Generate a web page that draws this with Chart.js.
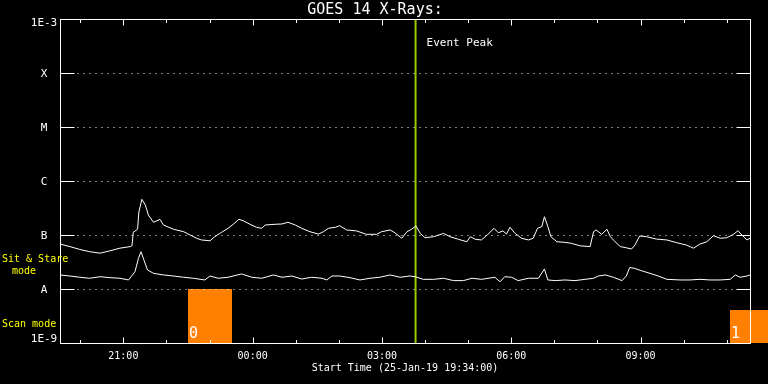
<!DOCTYPE html>
<html>
<head>
<meta charset="utf-8">
<title>GOES 14 X-Rays</title>
<script src="https://cdn.jsdelivr.net/npm/chart.js@4"></script>
<style>
  html, body { margin: 0; padding: 0; background: #000; }
  #wrap { width: 768px; height: 384px; }
</style>
</head>
<body>
<div id="wrap"><canvas id="xrayChart" width="768" height="384"></canvas></div>
<script>
// Time axis is in hours since 00:00 of 25-Jan-19 (values > 24 are the next day)
const startLabel = 'Start Time (25-Jan-19 19:34:00)';
const xMin = 19.53, xMax = 35.54;
const hourTicks = [20,21,22,23,24,25,26,27,28,29,30,31,32,33,34,35];

// Flux classes on the log axis
const classValues = [1e-9, 1e-8, 1e-7, 1e-6, 1e-5, 1e-4, 1e-3];
const classLabels = ['1E-9', 'A', 'B', 'C', 'M', 'X', '1E-3'];

// Long channel (upper trace)
const longTimes = [19.53,19.76,19.99,20.22,20.46,20.69,20.92,21.16,21.20,21.23,21.33,21.36,21.43,21.51,21.58,21.70,21.85,21.93,22.16,22.40,22.55,22.70,22.81,23.01,23.12,23.28,23.43,23.55,23.68,23.78,23.94,24.09,24.21,24.29,24.52,24.68,24.82,24.99,25.14,25.33,25.53,25.64,25.76,25.92,26.02,26.18,26.41,26.64,26.88,26.99,27.19,27.30,27.46,27.58,27.69,27.79,27.89,28.00,28.20,28.43,28.58,28.78,28.97,29.05,29.17,29.31,29.46,29.60,29.70,29.81,29.89,29.97,30.09,30.24,30.40,30.51,30.61,30.71,30.77,30.85,30.92,31.06,31.25,31.40,31.60,31.83,31.91,31.97,32.10,32.22,32.30,32.41,32.53,32.67,32.79,32.87,32.98,33.14,33.37,33.61,33.84,34.07,34.23,34.38,34.54,34.69,34.85,35.00,35.16,35.26,35.35,35.47,35.54];
const longFlux = [6.8e-8,6.1e-8,5.4e-8,4.9e-8,4.6e-8,5.1e-8,5.7e-8,6.1e-8,6.3e-8,1.12e-7,1.28e-7,2.67e-7,4.58e-7,3.59e-7,2.34e-7,1.72e-7,1.95e-7,1.53e-7,1.28e-7,1.15e-7,1.0e-7,8.7e-8,8.1e-8,7.8e-8,9.3e-8,1.12e-7,1.33e-7,1.58e-7,1.95e-7,1.84e-7,1.58e-7,1.39e-7,1.33e-7,1.53e-7,1.58e-7,1.6e-7,1.72e-7,1.53e-7,1.33e-7,1.15e-7,1.04e-7,1.15e-7,1.33e-7,1.39e-7,1.49e-7,1.24e-7,1.19e-7,1.03e-7,1.03e-7,1.15e-7,1.24e-7,1.1e-7,8.7e-8,1.15e-7,1.28e-7,1.47e-7,1.07e-7,8.9e-8,9.3e-8,1.07e-7,9.3e-8,8.3e-8,7.5e-8,9.3e-8,8.3e-8,8.1e-8,1.03e-7,1.33e-7,1.1e-7,1.19e-7,1.04e-7,1.39e-7,1.07e-7,8.7e-8,8.1e-8,8.7e-8,1.33e-7,1.43e-7,2.18e-7,1.43e-7,9.3e-8,7.5e-8,7.3e-8,7.0e-8,6.3e-8,6.1e-8,1.15e-7,1.24e-7,1.03e-7,1.28e-7,9.3e-8,7.5e-8,6.1e-8,5.8e-8,5.5e-8,6.5e-8,9.6e-8,9.3e-8,8.4e-8,8.1e-8,7.2e-8,6.5e-8,5.7e-8,6.8e-8,7.5e-8,9.7e-8,8.7e-8,8.9e-8,1.03e-7,1.2e-7,1.0e-7,8.1e-8,8.7e-8];

// Short channel (lower trace)
const shortTimes = [19.53,19.76,19.99,20.22,20.46,20.69,20.92,21.12,21.27,21.35,21.41,21.48,21.56,21.70,21.93,22.16,22.40,22.63,22.89,23.01,23.20,23.43,23.74,23.98,24.21,24.48,24.68,24.91,25.14,25.37,25.61,25.72,25.84,26.02,26.26,26.49,26.72,26.95,27.19,27.42,27.65,27.77,27.96,28.20,28.43,28.66,28.89,29.09,29.31,29.62,29.74,29.85,30.01,30.16,30.40,30.63,30.77,30.85,31.02,31.25,31.48,31.71,31.91,32.02,32.18,32.37,32.57,32.67,32.75,32.87,33.02,33.22,33.41,33.61,33.92,34.15,34.38,34.61,34.85,35.08,35.20,35.31,35.47,35.54];
const shortFlux = [1.82e-8,1.74e-8,1.65e-8,1.58e-8,1.69e-8,1.62e-8,1.58e-8,1.47e-8,2.09e-8,3.7e-8,4.9e-8,3.4e-8,2.25e-8,1.95e-8,1.82e-8,1.74e-8,1.65e-8,1.58e-8,1.47e-8,1.74e-8,1.58e-8,1.65e-8,1.9e-8,1.65e-8,1.58e-8,1.82e-8,1.65e-8,1.74e-8,1.53e-8,1.65e-8,1.58e-8,1.47e-8,1.74e-8,1.74e-8,1.62e-8,1.47e-8,1.58e-8,1.65e-8,1.82e-8,1.65e-8,1.74e-8,1.69e-8,1.51e-8,1.51e-8,1.58e-8,1.43e-8,1.43e-8,1.58e-8,1.51e-8,1.65e-8,1.36e-8,1.69e-8,1.65e-8,1.43e-8,1.58e-8,1.58e-8,2.35e-8,1.47e-8,1.43e-8,1.47e-8,1.43e-8,1.51e-8,1.58e-8,1.74e-8,1.82e-8,1.65e-8,1.43e-8,1.74e-8,2.5e-8,2.4e-8,2.18e-8,1.95e-8,1.74e-8,1.51e-8,1.47e-8,1.47e-8,1.51e-8,1.47e-8,1.47e-8,1.51e-8,1.82e-8,1.65e-8,1.74e-8,1.82e-8];

// Event peak marker
const eventTime = 27.78;
const eventLabel = 'Event Peak';

// Scan mode blocks
const modeStart = [22.50, 35.08];
const modeEnd = [23.53, 35.96];
const modeTop = [1e-8, 4.1e-9];
const modeNames = ['0', '1'];

const MONO = "'DejaVu Sans Mono', 'Liberation Mono', monospace";

function hourLabel(v) {
    if (v % 3 !== 0) return '';
    return String(v % 24).padStart(2, '0') + ':00';
}

function toPoints(times, vals) {
    return times.map((t, i) => ({ x: t, y: vals[i] }));
}

// Frame, inner ticks, dotted class lines, side labels, mode boxes
const goesFrame = {
    id: 'goesFrame',
    beforeDatasetsDraw(chart) {
        const { ctx, scales: { x, y } } = chart;
        ctx.save();
        for (let i = 0; i < modeStart.length; i++) {
            const x0 = Math.round(x.getPixelForValue(modeStart[i]));
            const x1 = Math.round(x.getPixelForValue(modeEnd[i]));
            const y0 = Math.round(y.getPixelForValue(modeTop[i]));
            const y1 = Math.round(y.getPixelForValue(1e-9));
            ctx.fillStyle = '#ff8000';
            ctx.fillRect(x0, y0, x1 - x0, y1 - y0);
            ctx.fillStyle = '#fff';
            ctx.font = '15px ' + MONO;
            ctx.textBaseline = 'alphabetic';
            ctx.textAlign = 'left';
            ctx.fillText(modeNames[i], x0 + 1, y1 - 5);
        }
        ctx.restore();
    },
    afterDatasetsDraw(chart) {
        const { ctx, chartArea: a, scales: { x, y } } = chart;
        ctx.save();
        ctx.strokeStyle = '#fff';
        ctx.lineWidth = 1;
        const L = a.left + 0.5, R = a.right + 0.5, T = a.top + 0.5, B = a.bottom + 0.5;
        ctx.strokeRect(L, T, R - L, B - T);

        // inner hour ticks top and bottom
        hourTicks.forEach(h => {
            const px = Math.round(x.getPixelForValue(h)) + 0.5;
            const len = h % 3 === 0 ? 6 : 3.5;
            ctx.beginPath();
            ctx.moveTo(px, B); ctx.lineTo(px, B - len);
            ctx.moveTo(px, T); ctx.lineTo(px, T + len);
            ctx.stroke();
        });

        // class lines + labels
        const last = classValues.length - 1;
        classValues.forEach((v, i) => {
            const py = Math.round(y.getPixelForValue(v)) + 0.5;
            if (i > 0 && i < last) {
                ctx.setLineDash([]);
                ctx.beginPath();
                ctx.moveTo(L, py); ctx.lineTo(L + 14, py);
                ctx.moveTo(R, py); ctx.lineTo(R - 14, py);
                ctx.stroke();
                ctx.setLineDash([1, 5]);
                ctx.beginPath();
                ctx.moveTo(L + 17, py); ctx.lineTo(R - 14, py);
                ctx.stroke();
                ctx.setLineDash([]);
            }
            ctx.fillStyle = '#fff';
            ctx.font = '11px ' + MONO;
            ctx.textAlign = 'center';
            let ly = py + 1;
            if (i === 0) ly = py - 4;
            if (i === last) ly = py + 4;
            ctx.textBaseline = 'middle';
            ctx.fillText(classLabels[i], 44, ly);
        });

        // event label
        const ex = x.getPixelForValue(eventTime);
        ctx.fillStyle = '#fff';
        ctx.font = '11px ' + MONO;
        ctx.textAlign = 'left';
        ctx.textBaseline = 'middle';
        ctx.fillText(eventLabel, ex + 11, 43);

        // mode captions
        ctx.fillStyle = '#ffff00';
        ctx.font = '10px ' + MONO;
        ctx.textAlign = 'left';
        ctx.fillText('Sit & Stare', 2, 259);
        ctx.textAlign = 'center';
        ctx.fillText('mode', 24, 271);
        ctx.textAlign = 'left';
        ctx.fillText('Scan mode', 2, 324);
        ctx.restore();
    }
};

new Chart(document.getElementById('xrayChart'), {
    type: 'line',
    data: {
        datasets: [
            { label: 'Long', data: toPoints(longTimes, longFlux), borderColor: '#ffffff', borderWidth: 1, pointRadius: 0, tension: 0 },
            { label: 'Short', data: toPoints(shortTimes, shortFlux), borderColor: '#ffffff', borderWidth: 1, pointRadius: 0, tension: 0 },
            { label: eventLabel, data: [{ x: eventTime, y: 1e-9 }, { x: eventTime, y: 1e-3 }], borderColor: '#99cc00', borderWidth: 2, pointRadius: 0 }
        ]
    },
    options: {
        responsive: false,
        animation: false,
        devicePixelRatio: 1,
        layout: { padding: { top: 0, right: 18, bottom: 0, left: 0 } },
        plugins: {
            legend: { display: false },
            tooltip: { enabled: false },
            title: {
                display: true,
                text: 'GOES 14 X-Rays:',
                color: '#ffffff',
                font: { family: MONO, size: 15, weight: 'normal', lineHeight: 1.2 },
                padding: { top: 1, bottom: 0 }
            }
        },
        scales: {
            x: {
                type: 'linear',
                min: xMin,
                max: xMax,
                afterBuildTicks: s => { s.ticks = hourTicks.map(v => ({ value: v })); },
                afterFit: s => { s.height = 41; },
                ticks: { autoSkip: false, maxRotation: 0, color: '#ffffff', padding: 7, font: { family: MONO, size: 10 }, callback: v => hourLabel(v) },
                grid: { display: false, drawTicks: false },
                border: { display: false },
                title: { display: true, text: startLabel, color: '#ffffff', font: { family: MONO, size: 10, lineHeight: 1.2 }, padding: { top: 0, bottom: 10 } }
            },
            y: {
                type: 'logarithmic',
                min: 1e-9,
                max: 1e-3,
                afterFit: s => { s.width = 60; },
                ticks: { display: false },
                grid: { display: false, drawTicks: false },
                border: { display: false }
            }
        }
    },
    plugins: [goesFrame]
});
</script>
</body>
</html>
